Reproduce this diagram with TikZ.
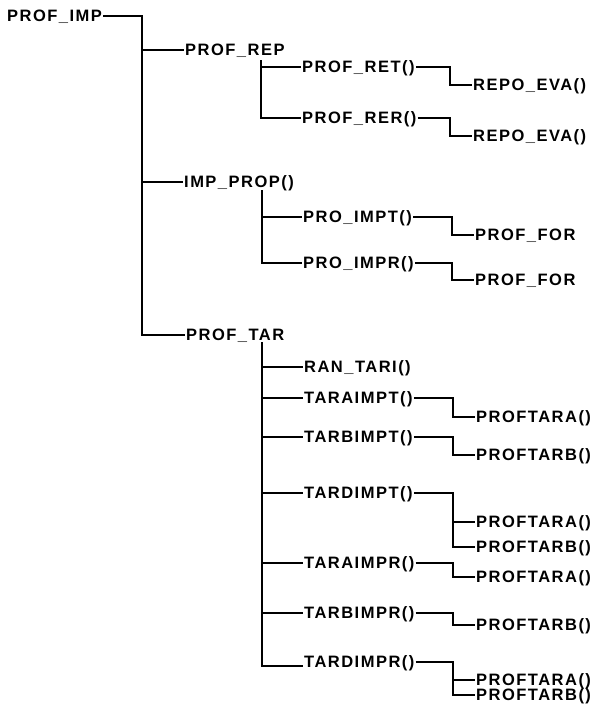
\documentclass[tikz,border=0pt]{standalone}
\usepackage{fontspec}
\setmainfont{Liberation Sans}[LetterSpace=9]
\usepackage{tikz}

\tikzset{
  lbl/.style={anchor=west,inner xsep=1pt,inner ysep=0pt,text height=11.8pt,text depth=0pt,
    font=\bfseries\fontsize{16.5}{18}\selectfont},
  wire/.style={line width=1.3pt,line join=miter}
}

\begin{document}
\begin{tikzpicture}[x=1pt,y=-1pt]
\useasboundingbox (0,0) rectangle (603,705);
% level 0 and 1
\node[lbl] (imp) at (6,16) {PROF\_IMP};
\node[lbl] (rep) at (184,50) {PROF\_REP};
\node[lbl] (prop) at (183,182) {IMP\_PROP()};
\node[lbl] (tar) at (185,335) {PROF\_TAR};
\draw[wire] (imp.east) -| (142,335) -- (tar.west);
\draw[wire] (142,50) -- (rep.west);
\draw[wire] (142,182) -- (prop.west);
% level 2
\node[lbl] (ret) at (301,67) {PROF\_RET()};
\node[lbl] (rer) at (301,118) {PROF\_RER()};
\node[lbl] (impt) at (302,217) {PRO\_IMPT()};
\node[lbl] (impr) at (302,263) {PRO\_IMPR()};
\node[lbl] (rant) at (303,367) {RAN\_TARI()};
\node[lbl] (taimpt) at (303,398) {TARAIMPT()};
\node[lbl] (tbimpt) at (303,437) {TARBIMPT()};
\node[lbl] (tdimpt) at (303,493) {TARDIMPT()};
\node[lbl] (taimpr) at (303,563) {TARAIMPR()};
\node[lbl] (tbimpr) at (303,613) {TARBIMPR()};
\node[lbl] (tdimpr) at (303,662) {TARDIMPR()};
\coordinate (trep) at (261,60);
\coordinate (tprop) at (262,190);
\coordinate (ttar) at (262,342);
\draw[wire] (trep) |- (rer.west);
\draw[wire] (trep |- ret) -- (ret.west);
\draw[wire] (tprop) |- (impr.west);
\draw[wire] (tprop |- impt) -- (impt.west);
\draw[wire] (ttar) |- ([yshift=-4pt]tdimpr.west);
\foreach \n in {rant,taimpt,tbimpt,tdimpt,taimpr,tbimpr}{
\draw[wire] (ttar |- \n) -- (\n.west);
}
% level 3
\node[lbl] (eva1) at (472,85) {REPO\_EVA()};
\node[lbl] (eva2) at (472,136) {REPO\_EVA()};
\node[lbl] (for1) at (474,235) {PROF\_FOR};
\node[lbl] (for2) at (474,280) {PROF\_FOR};
\node[lbl] (pa1) at (475,417) {PROFTARA()};
\node[lbl] (pb1) at (475,455) {PROFTARB()};
\node[lbl] (pa2) at (475,522) {PROFTARA()};
\node[lbl] (pb2) at (475,547) {PROFTARB()};
\node[lbl] (pa3) at (475,577) {PROFTARA()};
\node[lbl] (pb3) at (475,625) {PROFTARB()};
\node[lbl] (pa4) at (475,680) {PROFTARA()};
\node[lbl] (pb4) at (475,695) {PROFTARB()};
\foreach \p/\c in {ret/eva1,rer/eva2,impt/for1,impr/for2,taimpt/pa1,tbimpt/pb1,
  tdimpt/pb2,taimpr/pa3,tbimpr/pb3,tdimpr/pb4}{
\draw[wire] (\p.east) -| ([xshift=-22pt]\c.west) -- (\c.west);
}
\draw[wire] ([xshift=-22pt]pa2.west) -- (pa2.west);
\draw[wire] ([xshift=-22pt]pa4.west) -- (pa4.west);
\end{tikzpicture}
\end{document}
